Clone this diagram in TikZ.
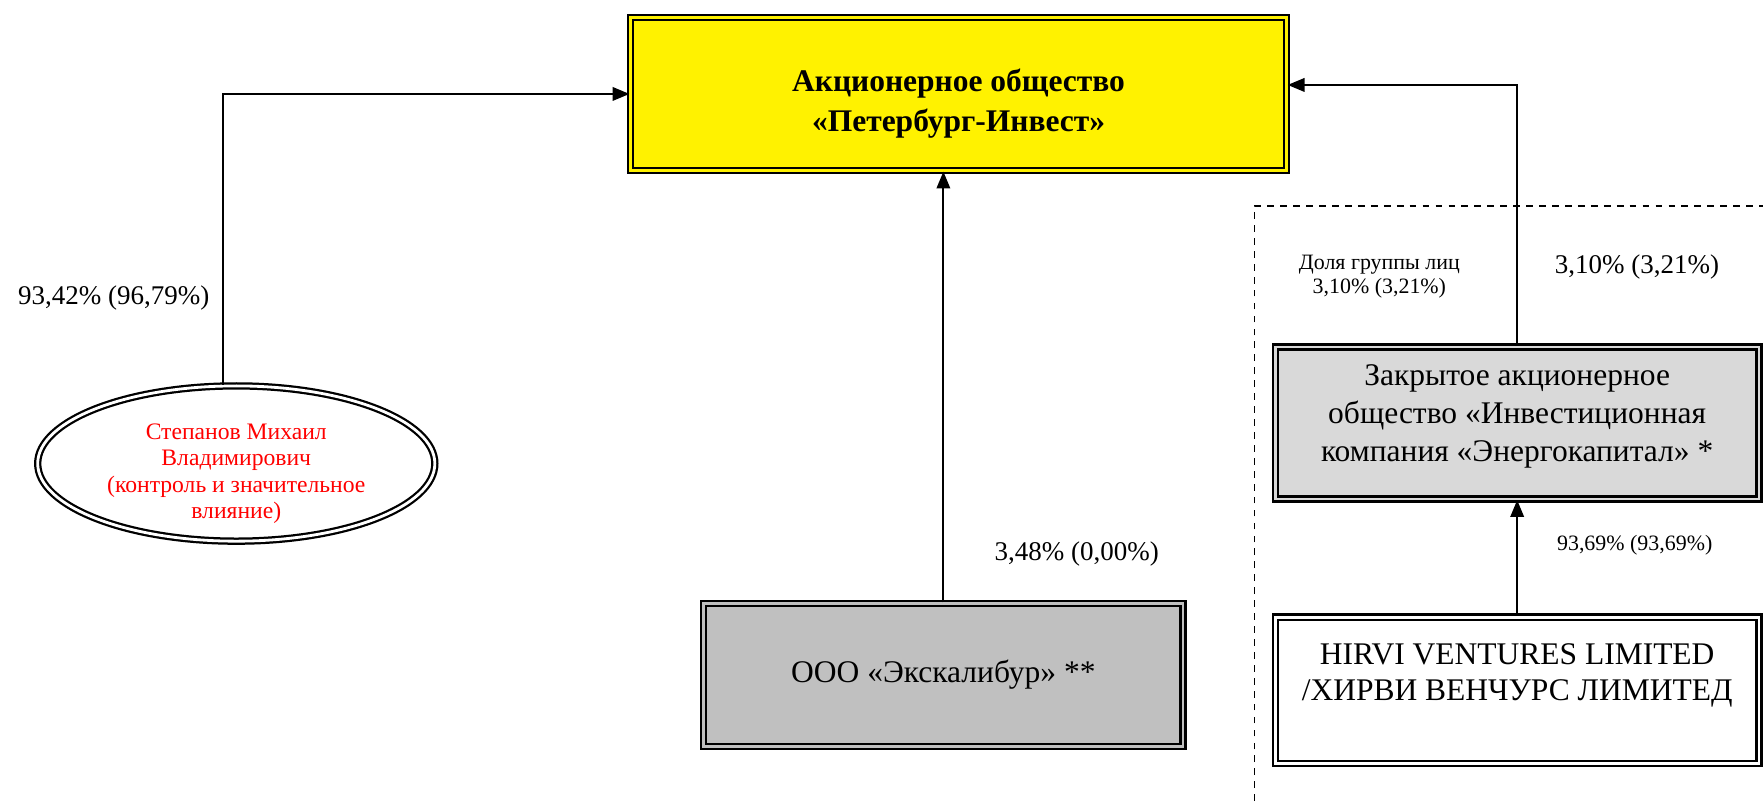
\documentclass[tikz,border=0pt]{standalone}
\usepackage{fontspec}
\setmainfont{Liberation Serif}
\usetikzlibrary{shapes.geometric,arrows.meta}
\definecolor{grayA}{HTML}{C0C0C0}
\definecolor{grayB}{HTML}{D9D9D9}
\newcommand{\fs}[2]{\fontsize{#1}{#2}\selectfont}
\begin{document}
\begin{tikzpicture}[x=1pt, y=-1pt, line width=1.8pt,
  box/.style = {draw, line width=2pt, double distance=2.5pt, align=center, inner sep=0pt},
  lbl/.style = {align=center, inner sep=0pt},
  arr/.style = {-{Triangle[length=15pt,width=12pt]}}]
  \useasboundingbox (0,0) rectangle (1567,712);

  \node[box, fill=yellow, double=yellow, minimum width=583pt, minimum height=136pt] (ao) at (852,83.5) {};
  \node[lbl, font=\fs{28}{36}\bfseries] (aot) at (852,92) {Акционерное общество\\«Петербург-Инвест»};
  \node[box, ellipse, double=white, minimum width=353pt, minimum height=138pt] (st) at (210,412) {};
  \node[lbl, text=red, font=\fs{21}{23.5}] (stt) at (210,421) {Степанов Михаил\\Владимирович\\(контроль и значительное\\влияние)};
  \node[box, fill=grayA, double=grayA, minimum width=426pt, minimum height=127pt, font=\fs{28}{33}] (exc) at (838.5,600) {\raisebox{-4pt}{ООО «Экскалибур» **}};
  \node[box, fill=grayB, double=grayB, minimum width=430pt, minimum height=135pt] (zak) at (1348.5,376) {};
  \node[lbl, font=\fs{28}{33.5}] (zakt) at (1348.5,370) {Закрытое акционерное\\общество «Инвестиционная\\компания «Энергокапитал» *};
  \node[box, double=white, minimum width=430pt, minimum height=130pt, font=\fs{28}{32}] (hir) at (1348.5,613.5) {HIRVI VENTURES LIMITED\\/ХИРВИ ВЕНЧУРС ЛИМИТЕД\\\mbox{}};

  % подписи долей
  \node[lbl, font=\fs{24}{28}] (p1) at (101,265) {93,42\% (96,79\%)};
  \node[lbl, font=\fs{24}{28}] (p2) at (957,492) {3,48\% (0,00\%)};
  \node[lbl, font=\fs{19.5}{22}] (p3) at (1226,246) {Доля группы лиц\\3,10\% (3,21\%)};
  \node[lbl, font=\fs{24}{28}] (p4) at (1455,237) {3,10\% (3,21\%)};
  \node[lbl, font=\fs{19.5}{22}] (p5) at (1453,485) {93,69\% (93,69\%)};

  % группа лиц
  \draw[line width=1.5pt, dash pattern=on 6pt off 5.5pt] (1115,712) -- (1115,183) -- (1567,183);

  \draw[arr] ([xshift=-12pt]st.north) |- (ao.west);
  \draw[arr] (exc.north) -- (exc.north |- ao.south);
  \draw[arr] (zak.north) |- ([yshift=8pt]ao.east);
  \draw[arr] (hir.north) -- (zak.south);
\end{tikzpicture}
\end{document}
